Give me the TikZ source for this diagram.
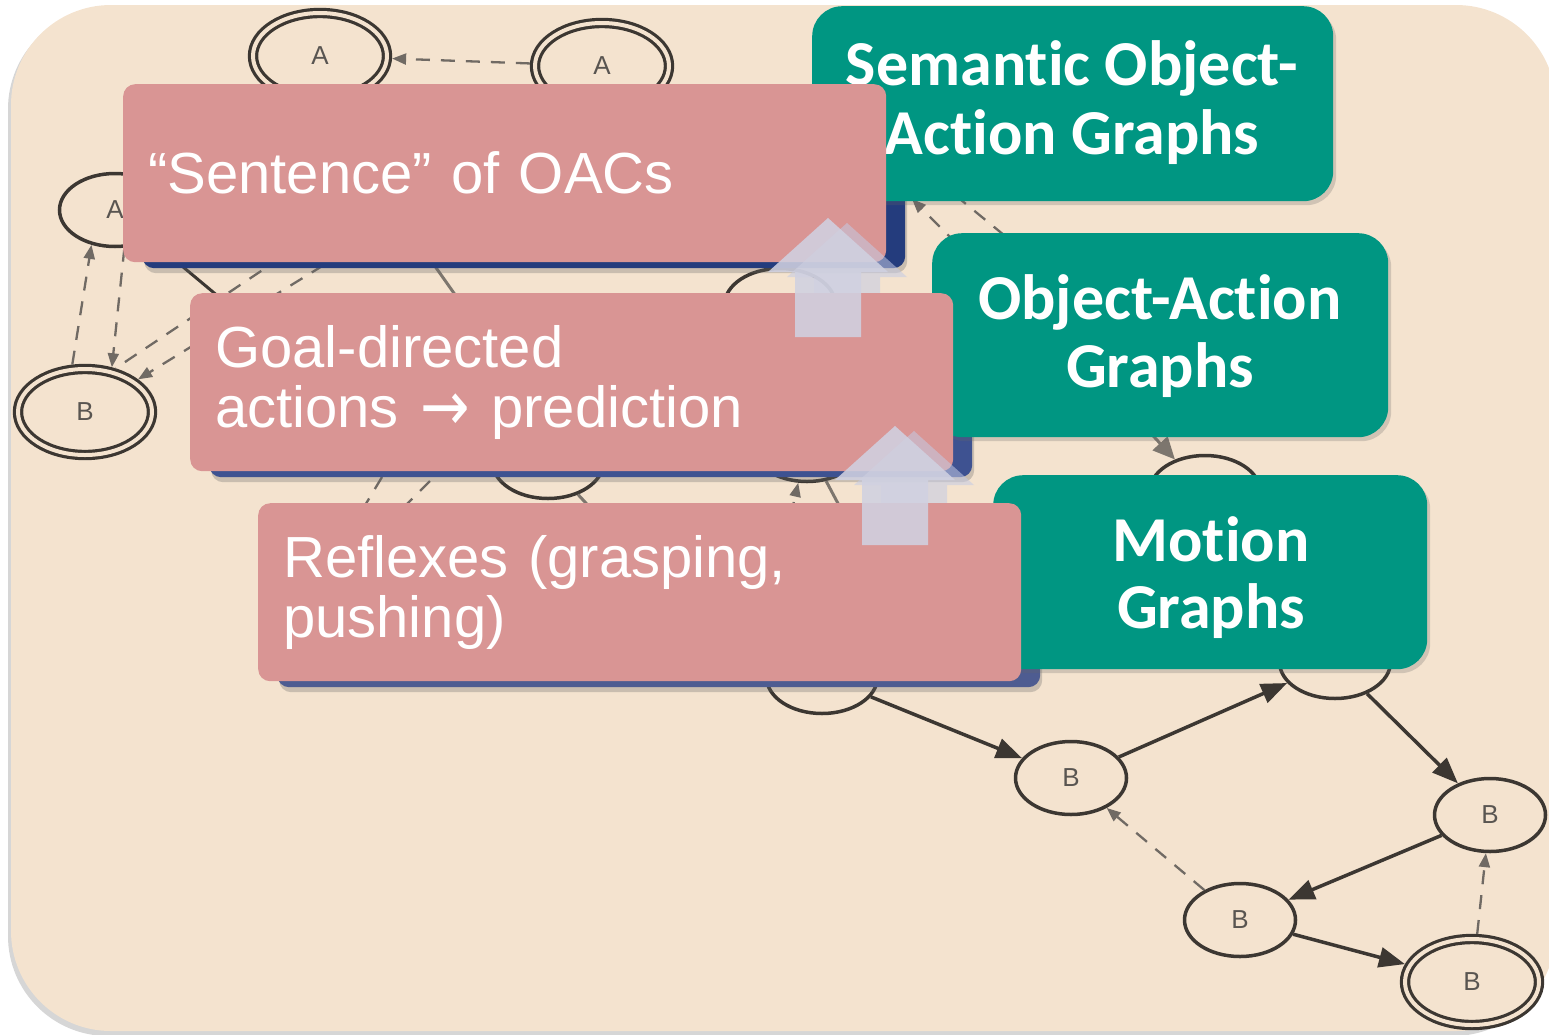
\documentclass[tikz,border=0pt]{standalone}
\usepackage{graphicx}
\usepackage{fontspec}
\setmainfont{Liberation Sans}
\newfontfamily\slidefont[Ligatures=NoCommon]{Carlito}
\newfontfamily\symbolfont{DejaVu Sans}
\usetikzlibrary{shapes.geometric,arrows.meta,shadows}

\definecolor{paper}{RGB}{244,227,207}
\definecolor{ink}{RGB}{60,55,50}
\definecolor{dashink}{RGB}{112,106,100}
\definecolor{greyink}{RGB}{125,118,110}
\definecolor{rose}{RGB}{217,149,148}
\definecolor{seagreen}{RGB}{0,150,130}
\definecolor{navyA}{RGB}{36,60,125}
\definecolor{navyB}{RGB}{62,82,145}
\definecolor{navyC}{RGB}{78,92,145}
\definecolor{lav}{RGB}{208,209,225}
\definecolor{lavshade}{RGB}{196,202,228}

% open arrow used inside the middle label
\newcommand{\leadsarrow}{\hspace{2pt}\raisebox{-3pt}{\scalebox{1.02}[1.2]{\symbolfont →}}\hspace{2pt}}

\tikzset{
  state/.style={ellipse, draw=ink, line width=3.5pt, minimum width=111pt, minimum height=73pt,
    inner sep=0pt, outer sep=1.75pt, text=ink!85, font=\fontsize{26}{26}\selectfont},
  final/.style={state, line width=3.2pt, double=paper, double distance=4pt, minimum width=134pt,
    minimum height=86pt, outer sep=5.2pt},
  solidedge/.style={draw=ink, line width=3.5pt, -{Triangle[length=26pt,width=20pt]}},
  dashedge/.style={draw=dashink, line width=2.3pt, dash pattern=on 14pt off 11pt,
    -{Triangle[length=14pt,width=11pt]}},
  dashplain/.style={draw=dashink, line width=2.3pt, dash pattern=on 14pt off 11pt},
  plainedge/.style={draw=greyink, line width=3pt},
  backbox/.style={rectangle, rounded corners=12pt, minimum width=763pt, minimum height=178pt,
    anchor=north west, inner sep=0pt,
    drop shadow={shadow xshift=2pt, shadow yshift=-5pt, opacity=0.3, fill=black!60}},
  pinkbox/.style={rectangle, rounded corners=12pt, fill=rose, text=white, anchor=north west,
    minimum height=178pt, text width=713pt, inner xsep=25pt, inner ysep=0pt, align=left,
    font=\fontsize{58}{60}\selectfont},
  tealbox/.style={rectangle, rounded corners=30pt, fill=seagreen, anchor=north west, inner sep=0pt,
    drop shadow={shadow xshift=3pt, shadow yshift=-4pt, opacity=0.25, fill=black!60}},
  tealtext/.style={anchor=base, inner sep=0pt, text=white,
    font=\slidefont\bfseries\fontsize{64}{67}\selectfont},
  arrowmain/.pic={\fill[lav, fill opacity=0.88] (-33,0) -- (-33,-65) -- (-60,-65) -- (0,-119)
    -- (60,-65) -- (33,-65) -- (33,0) -- cycle;},
  arrowshade/.pic={\fill[lavshade, fill opacity=0.55] (-33,0) -- (-33,-65) -- (-60,-65) -- (0,-119)
    -- (60,-65) -- (33,-65) -- (33,0) -- cycle;}
}

\begin{document}
\begin{tikzpicture}[x=1pt,y=-1pt]
\useasboundingbox (0,0) rectangle (1549,1034);

% paper card with a thin shadow
\fill[black!16, rounded corners=100pt] (8,9) rectangle (1553,1036);
\fill[paper, rounded corners=100pt] (11,5) rectangle (1556,1031);

% ---------------- state graph ----------------
\node[final] (gA1) at (320,56) {A};
\node[final] (gA2) at (602,66) {A};
\node[state] (gA3) at (115,210) {A};
\node[final] (gB1) at (85,412) {B};
\node[state] (gC5) at (780,305) {};
\node[state] (gC6) at (548,462) {};
\node[state] (gC7) at (807,445) {};
\node[state] (gC8) at (1205,492) {};
\node[state] (gC9) at (822,677) {};
\node[state] (gC10) at (1335,662) {};
\node[state] (gB2) at (1071,778) {B};
\node[state] (gB3) at (1490,815) {B};
\node[state] (gB4) at (1240,920) {B};
\node[final] (gB5) at (1472,982) {B};

\coordinate (hA) at (345,252);
\coordinate (hB) at (282,257);
\coordinate (hC) at (311,374);
\coordinate (hD) at (420,245);
\coordinate (hE) at (480,330);
\coordinate (hF) at (620,540);
\coordinate (hG) at (382,477);
\coordinate (hH) at (340,547);
\coordinate (hI) at (430,481);
\coordinate (hJ) at (405,506);
\coordinate (hK) at (785,540);
\coordinate (hL) at (860,545);
\coordinate (hM) at (1120,400);
\coordinate (hN) at (975,262);
\coordinate (hO) at (912,199);
\coordinate (hP) at (955,195);
\coordinate (hQ) at (1010,240);

\draw[dashedge] (gA2) -- (gA1);
\draw[dashedge] (gB1.105) -- (gA3.236);
\draw[dashedge] (gA3.284) -- (gB1.59);
\draw[dashedge] (hA) -- (gB1);
\draw[dashplain] (hB) -- (gB1.55);
\draw[draw=ink, line width=3pt] (gA3) -- (hC);
\draw[plainedge] (hD) -- (hE);
\draw[plainedge] (gC6) -- (hF);
\draw[dashplain] (hG) -- (hH);
\draw[dashplain] (hI) -- (hJ);
\draw[dashedge] (hK) -- (gC7);
\draw[plainedge] (gC7) -- (hL);
\draw[plainedge, -{Triangle[length=22pt,width=20pt]}] (hM) -- (gC8);
\draw[dashedge] (hN) -- (hO);
\draw[dashplain] (hP) -- (hQ);

\draw[solidedge] (gC9) -- (gB2);
\draw[solidedge] (gB2) -- (gC10);
\draw[solidedge] (gC10) -- (gB3);
\draw[solidedge] (gB3) -- (gB4);
\draw[solidedge] (gB4) -- (gB5);
\draw[dashedge] (gB4) -- (gB2);
\draw[dashedge] (gB5) -- (gB3);

% ---------------- level 1 ----------------
\node[backbox, fill=navyA] (backA) at (142,90) {};
\node[tealbox, minimum width=521pt, minimum height=195pt] (semA) at (812,6) {};
\node[tealtext] (semA1) at (1072,85) {Semantic Object-};
\node[tealtext] (semA2) at (1072,154) {Action Graphs};
\node[pinkbox] (lvlA) at (123,84) {“Sentence” of OACs};
\pic at (847,342) {arrowshade};

% ---------------- level 2 ----------------
\node[backbox, fill=navyB] (backB) at (209,299) {};
\node[tealbox, minimum width=456pt, minimum height=204pt] (semB) at (932,233) {};
\node[tealtext] (semB1) at (1160,319) {Object-Action};
\node[tealtext] (semB2) at (1160,387) {Graphs};
\node[pinkbox] (lvlB) at (190,293) {Goal-directed\\actions \leadsarrow{} prediction};
\pic at (914,550) {arrowshade};

% ---------------- level 3 ----------------
\node[backbox, fill=navyC] (backC) at (277,509) {};
\node[tealbox, minimum width=434pt, minimum height=194pt] (semC) at (993,475) {};
\node[tealtext] (semC1) at (1211,561) {Motion};
\node[tealtext] (semC2) at (1211,628) {Graphs};
\node[pinkbox] (lvlC) at (258,503) {Reflexes (grasping,\\pushing)};

% upward arrows between the levels
\pic at (828,337) {arrowmain};
\pic at (895,545) {arrowmain};
\end{tikzpicture}
\end{document}
